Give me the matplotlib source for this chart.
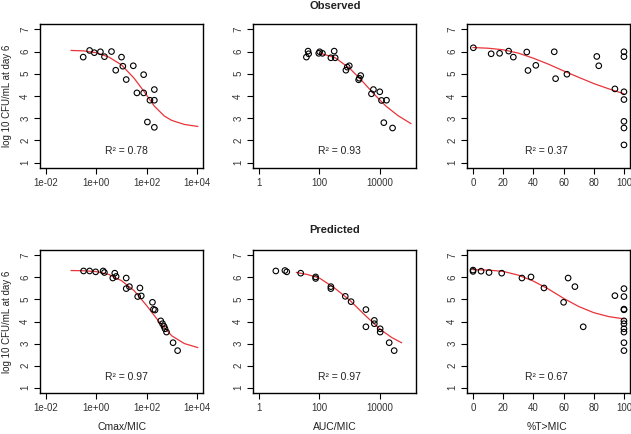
import matplotlib
matplotlib.use("Agg")
import matplotlib.pyplot as plt
import numpy as np

# ---------------- data ----------------
# Observed - Cmax/MIC
obs_cmax_x = [0.30, 0.54, 0.83, 1.45, 2.1, 4.0, 5.9, 10, 11.3, 15.4, 29.4, 41, 76, 76, 107, 135, 202, 202, 202]
obs_cmax_y = [5.75, 6.05, 5.95, 5.99, 5.77, 6.0, 5.16, 5.75, 5.34, 4.74, 5.36, 4.14, 4.96, 4.14, 2.83, 3.81, 3.81, 4.29, 2.59]
obs_cmax_fit_x = [0.1, 0.316, 1, 3.16, 10, 31.6, 79, 200, 500, 1000, 3162, 10700]
obs_cmax_fit_y = [6.05, 6.03, 5.95, 5.75, 5.40, 4.80, 4.20, 3.55, 3.10, 2.90, 2.72, 2.63]

# Observed - AUC/MIC
obs_auc_x = [37, 42, 44, 95, 102, 126, 240, 309, 333, 755, 836, 977, 1995, 2100, 2330, 5300, 6150, 10000, 11400, 16700, 13600, 26500]
obs_auc_y = [5.75, 6.02, 5.9, 5.92, 5.99, 5.92, 5.72, 6.02, 5.72, 5.16, 5.30, 5.36, 4.73, 4.8, 4.92, 4.1, 4.29, 4.19, 3.8, 3.81, 2.80, 2.56]
obs_auc_fit_x = [100, 316, 1000, 2512, 6310, 15850, 39800, 107000]
obs_auc_fit_y = [5.93, 5.74, 5.25, 4.70, 4.10, 3.55, 3.12, 2.76]

# Observed - %T>MIC
obs_t_x = [0.2, 12, 17.6, 23.6, 26.7, 35.6, 36.4, 41.6, 53.8, 54.7, 62.2, 82, 83.3, 94, 100, 100, 100, 100, 100, 100, 100]
obs_t_y = [6.17, 5.9, 5.92, 6.02, 5.75, 5.98, 5.15, 5.38, 5.99, 4.78, 4.98, 5.78, 5.36, 4.32, 5.99, 5.77, 4.19, 3.84, 2.86, 2.56, 1.80]
obs_t_fit_x = [0, 10, 20, 30, 40, 50, 60, 70, 80, 90, 100]
obs_t_fit_y = [6.18, 6.15, 6.08, 5.93, 5.70, 5.43, 5.13, 4.84, 4.56, 4.32, 4.10]

# Predicted - Cmax/MIC
pred_cmax_x = [0.31, 0.54, 0.94, 1.86, 2.09, 4.5, 5.4, 6.1, 15.4, 15.4, 20.6, 44, 54, 61, 170, 186, 215, 363, 427, 490, 537, 616, 1120, 1700]
pred_cmax_y = [6.29, 6.29, 6.25, 6.29, 6.22, 5.97, 6.19, 6.04, 5.97, 5.49, 5.58, 5.13, 5.52, 5.16, 4.87, 4.55, 4.52, 4.03, 3.9, 3.78, 3.67, 3.52, 3.04, 2.68]
pred_cmax_fit_x = [0.1, 0.316, 1, 3.16, 10, 31.6, 100, 316, 1000, 3162, 10700]
pred_cmax_fit_y = [6.31, 6.30, 6.26, 6.13, 5.85, 5.40, 4.72, 3.98, 3.35, 3.00, 2.82]

# Predicted - AUC/MIC
pred_auc_x = [3.6, 7.2, 8.3, 24, 75, 75, 240, 240, 720, 1120, 3470, 3470, 6600, 6600, 10300, 10300, 20500, 30000]
pred_auc_y = [6.29, 6.31, 6.25, 6.19, 6.02, 5.95, 5.58, 5.49, 5.14, 4.9, 4.54, 3.76, 4.05, 3.9, 3.67, 3.52, 3.04, 2.68]
pred_auc_fit_x = [17.4, 40, 100, 316, 1000, 3162, 10000, 25100, 52500]
pred_auc_fit_y = [6.22, 6.13, 5.97, 5.52, 4.97, 4.30, 3.66, 3.27, 3.04]

# Predicted - %T>MIC
pred_t_x = [0, 0, 5.3, 10.6, 19, 32.4, 38.4, 47, 60, 63, 67.5, 73, 94, 100, 100, 100, 100, 100, 100, 100, 100, 100, 100]
pred_t_y = [6.33, 6.27, 6.28, 6.22, 6.19, 5.97, 6.02, 5.52, 4.87, 5.97, 5.58, 3.76, 5.17, 5.49, 5.13, 4.56, 4.53, 4.03, 3.9, 3.67, 3.52, 3.04, 2.68]
pred_t_fit_x = [0, 10, 20, 30, 40, 50, 60, 70, 80, 90, 100]
pred_t_fit_y = [6.35, 6.33, 6.27, 6.10, 5.83, 5.47, 5.05, 4.68, 4.40, 4.22, 4.12]

r2_labels = [["R² = 0.78", "R² = 0.93", "R² = 0.37"],
             ["R² = 0.97", "R² = 0.97", "R² = 0.67"]]
row_titles = ["Observed", "Predicted"]
x_labels = ["Cmax/MIC", "AUC/MIC", "%T>MIC"]
y_label = "log 10 CFU/mL at day 6"
y_ticks = [1, 2, 3, 4, 5, 6, 7]
cmax_ticks = [1e-2, 1e0, 1e2, 1e4]
cmax_ticklabels = ["1e-02", "1e+00", "1e+02", "1e+04"]
auc_ticks = [1, 100, 10000]
auc_ticklabels = ["1", "100", "10000"]
t_ticks = [0, 20, 40, 60, 80, 100]

# ---------------- figure ----------------
plt.rcParams['font.family'] = ['Liberation Sans', 'DejaVu Sans']
W, H = 631, 434
fig = plt.figure(figsize=(W / 100, H / 100), dpi=100)
TXT = '#222222'

col_left = [40, 253, 467]
col_w = 163
row_top = [24, 250]
row_h = [144, 143]

panels = [
    [(obs_cmax_x, obs_cmax_y, obs_cmax_fit_x, obs_cmax_fit_y),
     (obs_auc_x, obs_auc_y, obs_auc_fit_x, obs_auc_fit_y),
     (obs_t_x, obs_t_y, obs_t_fit_x, obs_t_fit_y)],
    [(pred_cmax_x, pred_cmax_y, pred_cmax_fit_x, pred_cmax_fit_y),
     (pred_auc_x, pred_auc_y, pred_auc_fit_x, pred_auc_fit_y),
     (pred_t_x, pred_t_y, pred_t_fit_x, pred_t_fit_y)],
]
xlabel_cx = [122, 335, 547]

for r in range(2):
    for c in range(3):
        l = col_left[c] / W
        b = 1 - (row_top[r] + row_h[r]) / H
        ax = fig.add_axes([l, b, col_w / W, row_h[r] / H])
        px, py, fx, fy = panels[r][c]
        ax.plot(fx, fy, color='#e8343a', lw=0.9, zorder=2)
        ax.scatter(px, py, s=16, facecolors='none', edgecolors='black', linewidths=0.8, zorder=3)
        ax.set_ylim(0.76, 7.24)
        ax.set_yticks(y_ticks)
        ax.set_yticklabels([str(v) for v in y_ticks], rotation=90, va='center')
        if c == 0:
            ax.set_xscale('log')
            ax.set_xlim(10 ** -2.24, 10 ** 4.24)
            ax.set_xticks(cmax_ticks)
            ax.set_xticklabels(cmax_ticklabels)
        elif c == 1:
            ax.set_xscale('log')
            ax.set_xlim(10 ** -0.2, 10 ** 5.2)
            ax.set_xticks(auc_ticks)
            ax.set_xticklabels(auc_ticklabels)
        else:
            ax.set_xlim(-4, 104)
            ax.set_xticks(t_ticks)
        ax.minorticks_off()
        ax.tick_params(axis='both', direction='out', length=4, width=0.8,
                       labelsize=7, colors='black', labelcolor='#333333', pad=3)
        for s in ax.spines.values():
            s.set_linewidth(1.0)
        ax.text(0.53 if c < 2 else 0.49, 0.115, r2_labels[r][c], transform=ax.transAxes,
                ha='center', va='center', fontsize=7.5, color=TXT)
        if c == 0:
            ax.set_ylabel(y_label, fontsize=7, color=TXT, labelpad=6)
        if r == 1:
            fig.text(xlabel_cx[c] / W, 1 - 427 / H, x_labels[c], ha='center', va='center',
                     fontsize=7.5, color=TXT)

fig.text(335 / W, 1 - 6 / H, row_titles[0], ha='center', va='center', fontsize=8, fontweight='bold', color=TXT)
fig.text(335 / W, 1 - 230 / H, row_titles[1], ha='center', va='center', fontsize=8, fontweight='bold', color=TXT)

fig.savefig("out.png", dpi=100, facecolor='white')
